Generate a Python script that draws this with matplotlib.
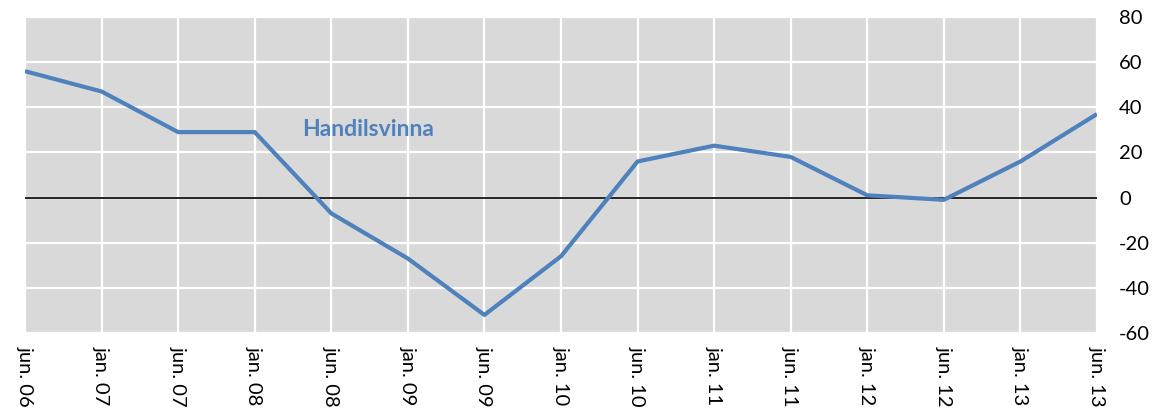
import matplotlib.pyplot as plt

labels = ["jun. 06", "jan. 07", "jun. 07", "jan. 08", "jun. 08", "jan. 09", "jun. 09",
          "jan. 10", "jun. 10", "jan. 11", "jun. 11", "jan. 12", "jun. 12", "jan. 13", "jun. 13"]
values = [56, 47, 29, 29, -7, -27, -52, -26, 16, 23, 18, 1, -1, 16, 37]
yticks = [-60, -40, -20, 0, 20, 40, 60, 80]

plt.rcParams["font.family"] = ["Lato", "DejaVu Sans"]

fig = plt.figure(figsize=(11.57, 4.16), dpi=100)
ax = fig.add_axes([25/1157, 83/416, 1072/1157, 316/416])

X = list(range(len(labels)))
ax.set_facecolor("#D9D9D9")
ax.set_xlim(0, len(labels) - 1)
ax.set_ylim(-60, 80)

ax.set_xticks(X)
ax.set_xticklabels(labels, rotation=-90, fontsize=14.5)
ax.set_yticks(yticks)
ax.set_yticklabels([str(t) for t in yticks], fontsize=14.5)
ax.yaxis.tick_right()
ax.tick_params(axis="y", length=0, pad=16)
ax.tick_params(axis="x", length=0, pad=9)

ax.grid(True, color="white", linewidth=1.6)
ax.set_axisbelow(True)
for s in ax.spines.values():
    s.set_visible(False)

ax.axhline(0, color="black", linewidth=1.2, zorder=2)
ax.plot(X, values, color="#4F81BD", linewidth=3, zorder=3, solid_capstyle="butt")

ax.text(3.62, 30, "Handilsvinna", color="#4F81BD", fontsize=16.5, fontweight="bold",
        ha="left", va="center")

fig.savefig("out.png", dpi=100)
